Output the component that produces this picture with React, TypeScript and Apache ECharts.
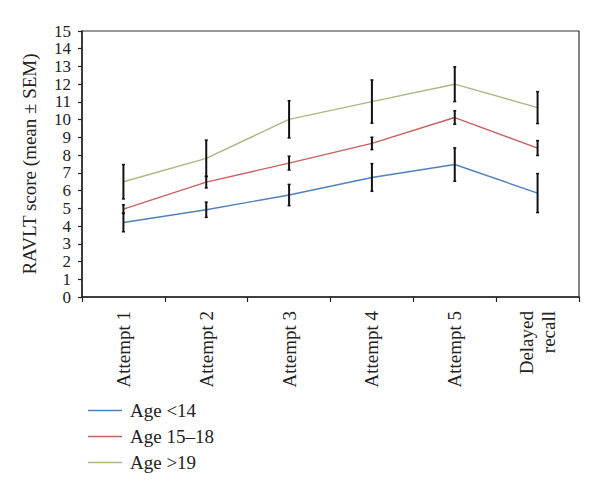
import React, { useEffect, useRef } from "react";
import * as echarts from "echarts";

const categories = ["Attempt 1", "Attempt 2", "Attempt 3", "Attempt 4", "Attempt 5", "Delayed\nrecall"];
const seriesNames = ["Age <14", "Age 15\u201318", "Age >19"];
const meanUnder14 = [4.2, 4.92, 5.75, 6.74, 7.47, 5.86];
const semUnder14 = [0.52, 0.43, 0.6, 0.78, 0.94, 1.1];
const mean15to18 = [4.96, 6.48, 7.55, 8.66, 10.12, 8.4];
const sem15to18 = [0.24, 0.33, 0.39, 0.35, 0.38, 0.42];
const meanOver19 = [6.5, 7.82, 10.02, 11.02, 12.0, 10.68];
const semOver19 = [0.97, 1.03, 1.05, 1.22, 0.98, 0.9];
const yTicks = { min: 0, max: 15, interval: 1 };
const colors = ["#4f81bd", "#c6605d", "#a9b983"];

const FONT = "Liberation Serif";

export default function App() {
  const ref = useRef<HTMLDivElement>(null);
  useEffect(() => {
    if (!ref.current) return;
    const chart = echarts.init(ref.current, null, { renderer: "svg" });
    const means = [meanUnder14, mean15to18, meanOver19];
    const sems = [semUnder14, sem15to18, semOver19];
    const errData: number[][] = [];
    means.forEach((m, s) => {
      m.forEach((v, i) => {
        errData.push([i, v - sems[s][i], v + sems[s][i]]);
      });
    });
    chart.setOption({
      animation: false,
      backgroundColor: "#ffffff",
      grid: {
        left: 82,
        top: 31,
        right: 21,
        bottom: 195,
        show: true,
        borderColor: "#333",
        borderWidth: 1.2,
      },
      legend: {
        orient: "vertical",
        left: 83,
        top: 396,
        icon: "rect",
        itemWidth: 34,
        itemHeight: 1.5,
        itemGap: 7,
        data: seriesNames,
        textStyle: {
          fontFamily: FONT,
          fontSize: 19,
          lineHeight: 19,
          color: "#222",
          padding: [0, 0, 0, 3],
        },
      },
      xAxis: {
        type: "category",
        data: categories,
        boundaryGap: true,
        axisLine: { lineStyle: { color: "#222", width: 1.5 } },
        axisTick: { show: true, length: 5, lineStyle: { color: "#222", width: 1.2 } },
        axisLabel: {
          rotate: 90,
          margin: 14,
          fontFamily: FONT,
          fontSize: 19,
          color: "#222",
          lineHeight: 22,
          interval: 0,
        },
      },
      yAxis: {
        type: "value",
        min: yTicks.min,
        max: yTicks.max,
        interval: yTicks.interval,
        name: "RAVLT score (mean \u00b1 SEM)",
        nameLocation: "middle",
        nameGap: 43,
        nameTextStyle: { fontFamily: FONT, fontSize: 19, color: "#222" },
        axisLine: { show: true, lineStyle: { color: "#222", width: 1.5 } },
        axisTick: { show: true, length: 4, lineStyle: { color: "#222", width: 1.2 } },
        splitLine: { show: false },
        axisLabel: {
          margin: 11,
          fontFamily: FONT,
          fontSize: 17,
          lineHeight: 14,
          color: "#222",
          showMinLabel: true,
          showMaxLabel: true,
          hideOverlap: false,
        },
      },
      series: [
        ...seriesNames.map((name, s) => ({
          name,
          type: "line",
          data: means[s],
          symbol: "none",
          color: colors[s],
          lineStyle: { color: colors[s], width: 1.4 },
          z: 2,
        })),
        {
          type: "custom",
          name: "sem",
          data: errData,
          z: 3,
          renderItem: (params: any, api: any) => {
            const x = api.value(0);
            const lo = api.coord([x, api.value(1)]);
            const hi = api.coord([x, api.value(2)]);
            const cap = 1.5;
            const style = { stroke: "#111", lineWidth: 2 };
            return {
              type: "group",
              children: [
                { type: "line", shape: { x1: lo[0], y1: lo[1], x2: hi[0], y2: hi[1] }, style },
                { type: "line", shape: { x1: lo[0] - cap, y1: lo[1], x2: lo[0] + cap, y2: lo[1] }, style: { stroke: "#111", lineWidth: 1.5 } },
                { type: "line", shape: { x1: hi[0] - cap, y1: hi[1], x2: hi[0] + cap, y2: hi[1] }, style: { stroke: "#111", lineWidth: 1.5 } },
              ],
            };
          },
        },
      ],
    });
    return () => chart.dispose();
  }, []);
  return <div ref={ref} style={{ width: 600, height: 492, position: "absolute", left: 0, top: 0 }} />;
}
